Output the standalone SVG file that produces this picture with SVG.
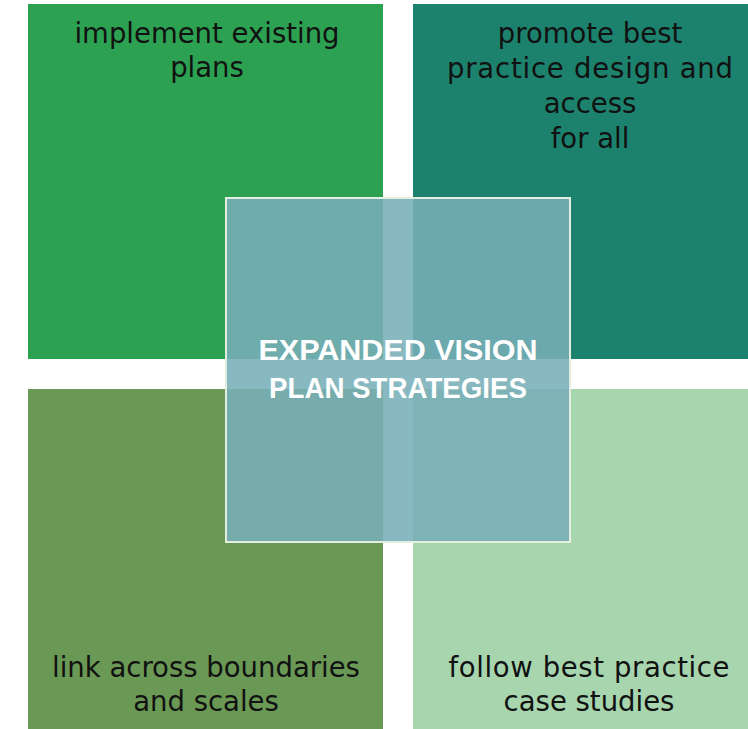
<svg xmlns="http://www.w3.org/2000/svg" width="748" height="729" viewBox="0 0 748 729">
<style>
.lbl{font-family:"DejaVu Sans","Liberation Sans",sans-serif;font-size:27.5px;fill:#111;text-anchor:middle}
.ctr{font-family:"Liberation Sans",Arial,sans-serif;font-size:30px;font-weight:bold;fill:#fff;text-anchor:middle}
</style>
<rect width="748" height="729" fill="#fff"/>
<g id="node-tl">
<rect x="28" y="4" width="355" height="355" fill="#2ca151"/>
<text class="lbl" x="207" y="43">implement existing</text>
<text class="lbl" x="207" y="77">plans</text>
</g>
<g id="node-tr">
<rect x="413" y="4" width="335" height="355" fill="#1c826d"/>
<text class="lbl" x="590" y="43">promote best</text>
<text class="lbl" x="590" y="78" textLength="286" lengthAdjust="spacing">practice design and</text>
<text class="lbl" x="590" y="113">access</text>
<text class="lbl" x="590" y="148">for all</text>
</g>
<g id="node-bl">
<rect x="28" y="389" width="355" height="340" fill="#6a9955"/>
<text class="lbl" x="206" y="677">link across boundaries</text>
<text class="lbl" x="206" y="711">and scales</text>
</g>
<g id="node-br">
<rect x="413" y="389" width="335" height="340" fill="#a6d5ae"/>
<text class="lbl" x="589" y="677" textLength="281" lengthAdjust="spacing">follow best practice</text>
<text class="lbl" x="589" y="711">case studies</text>
</g>
<g id="connectors"></g>
<g id="node-center">
<rect x="226" y="198" width="344" height="344" fill="#77aeb7" fill-opacity="0.88" stroke="#e4eee0" stroke-width="2"/>
<text class="ctr" x="398" y="360" textLength="279" lengthAdjust="spacingAndGlyphs">EXPANDED VISION</text>
<text class="ctr" x="398" y="398" textLength="258" lengthAdjust="spacingAndGlyphs">PLAN STRATEGIES</text>
</g>
</svg>
